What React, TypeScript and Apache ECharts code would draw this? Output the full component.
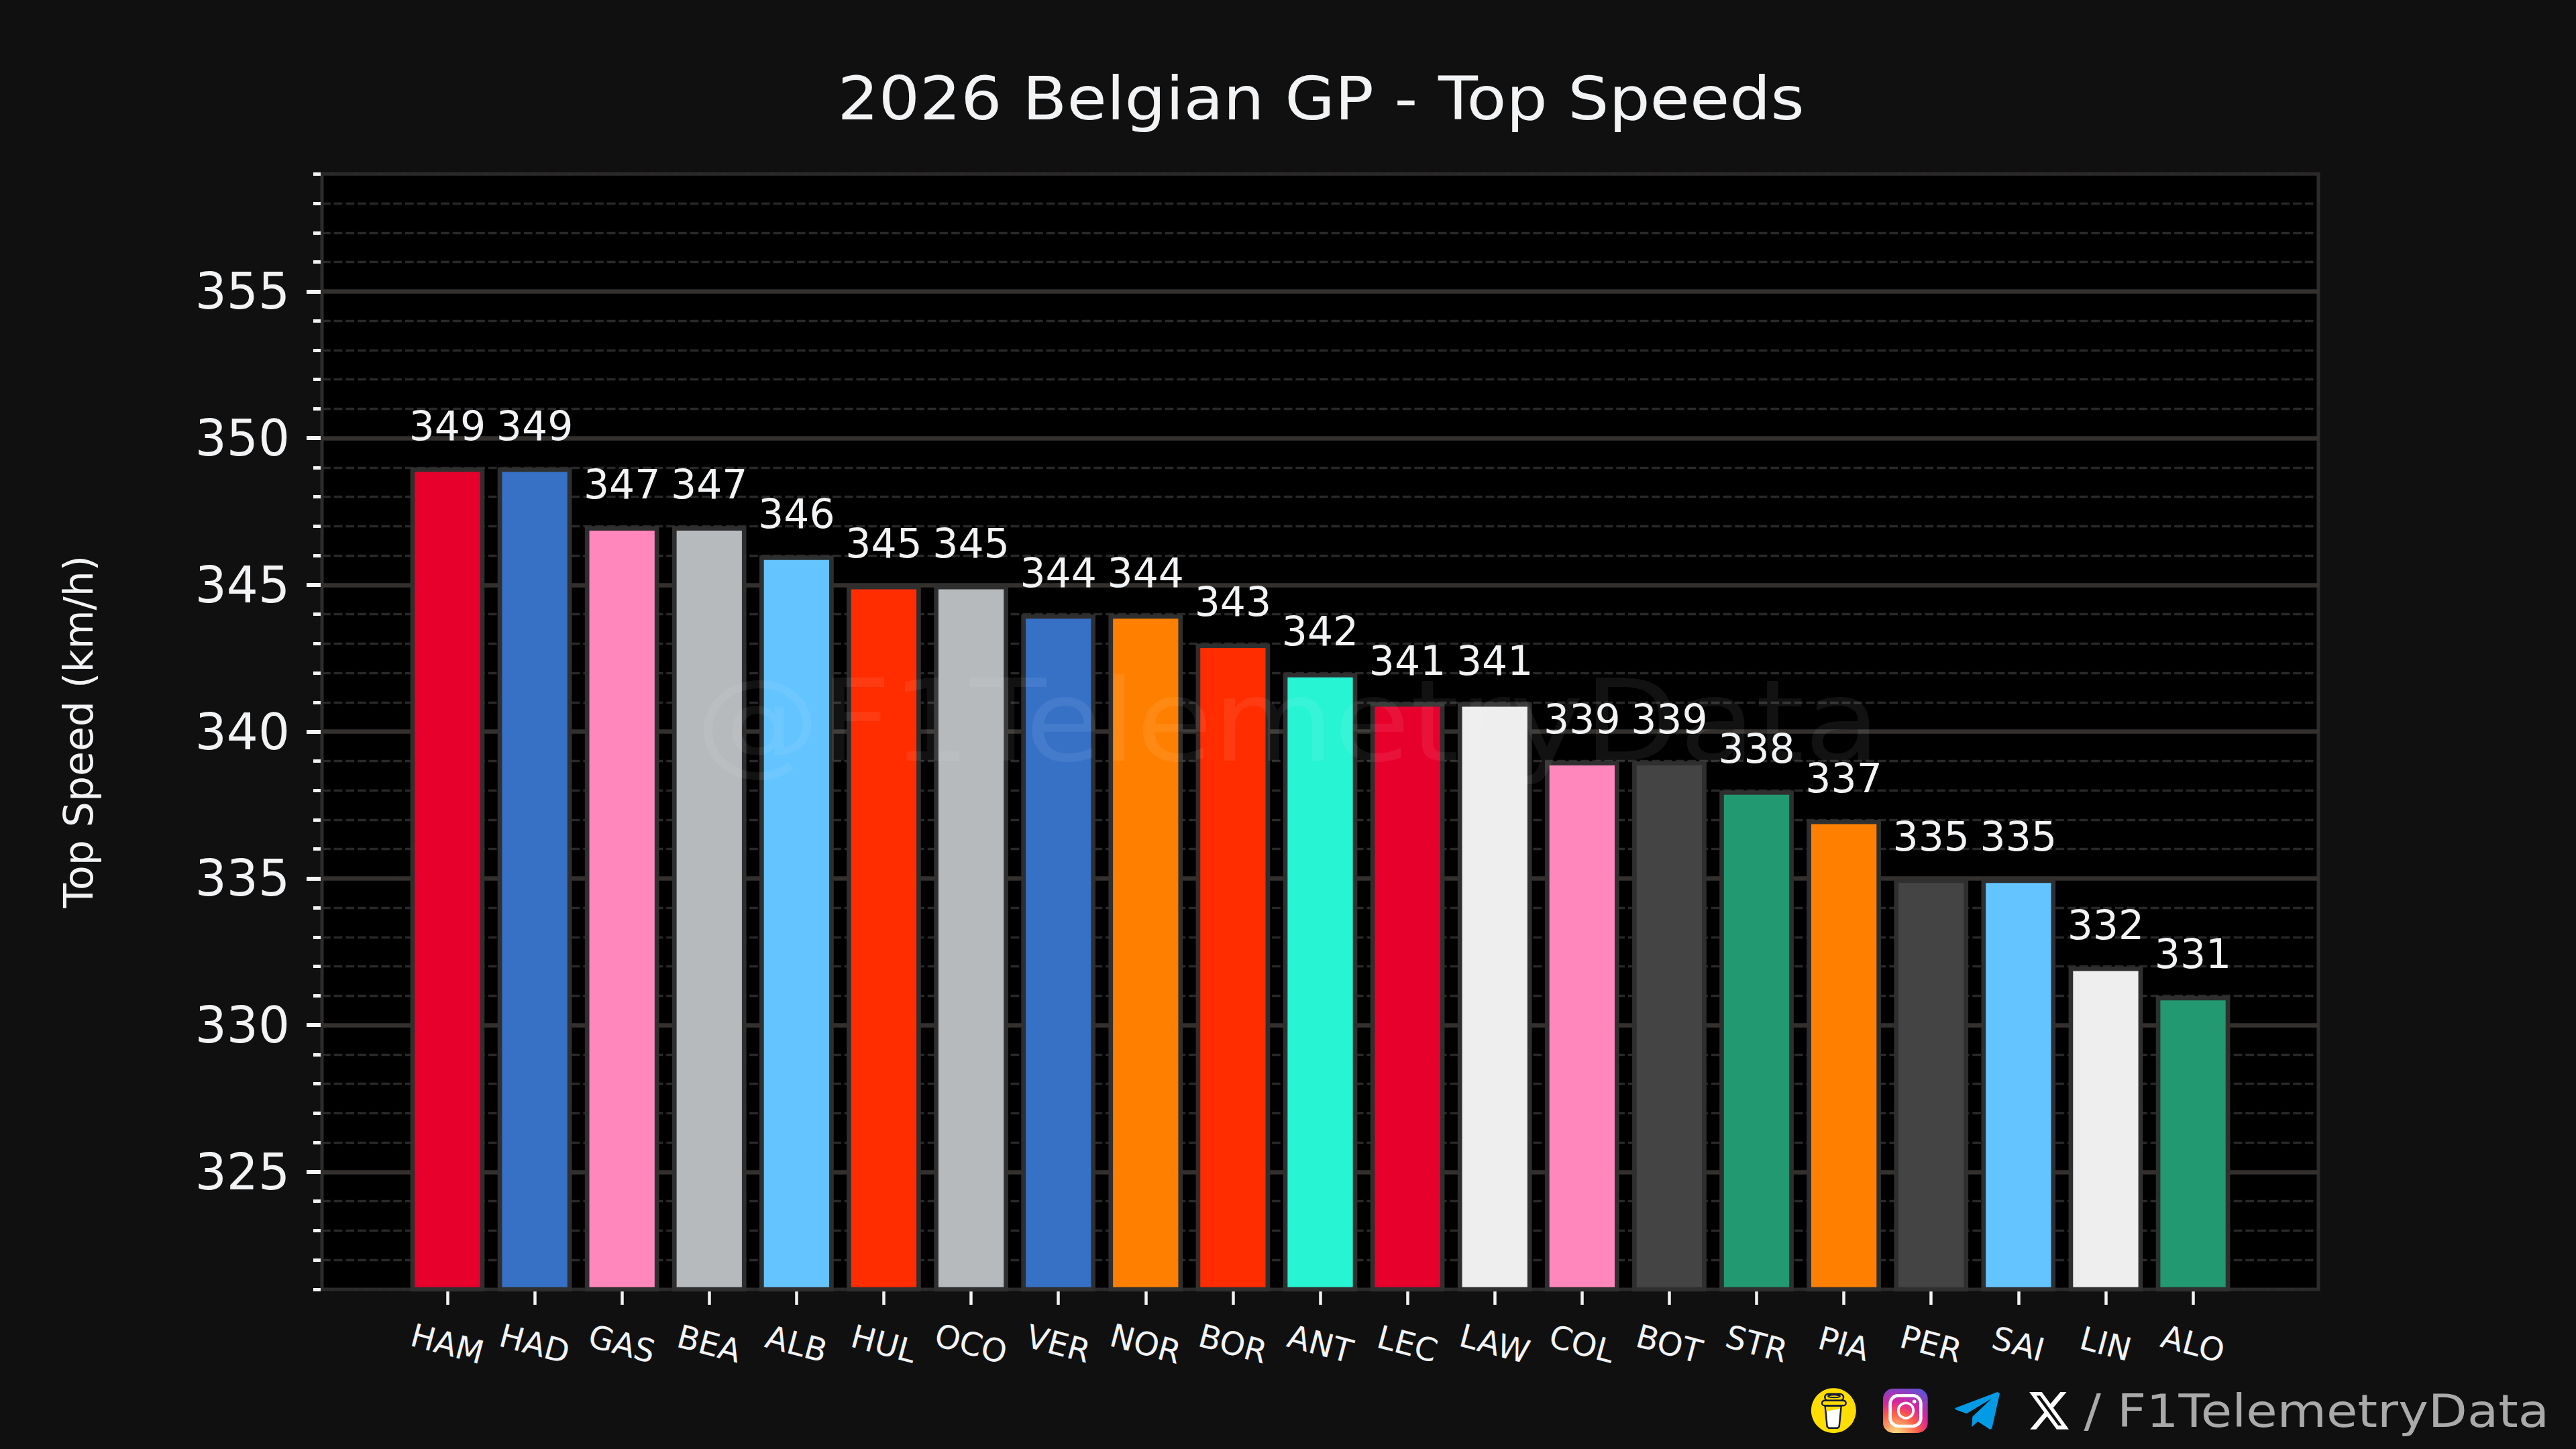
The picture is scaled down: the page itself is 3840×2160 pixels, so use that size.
import React, { useEffect, useRef } from "react";
import * as echarts from "echarts";

const drivers = ["HAM","HAD","GAS","BEA","ALB","HUL","OCO","VER","NOR","BOR","ANT","LEC","LAW","COL","BOT","STR","PIA","PER","SAI","LIN","ALO"];
const speeds = [349,349,347,347,346,345,345,344,344,343,342,341,341,339,339,338,337,335,335,332,331];
const barColors = ["#E8002D","#3671C6","#FF87BC","#B6BABD","#64C4FF","#FF2D00","#B6BABD","#3671C6","#FF8000","#FF2D00","#27F4D2","#E8002D","#EEEEEE","#FF87BC","#444444","#229971","#FF8000","#444444","#64C4FF","#EEEEEE","#229971"];
const majorTicks = [325,330,335,340,345,350,355];
const driverPositions = drivers.map((_, i) => i);

const FONT = "DejaVu Sans";
const TEXT = "#F2F3F5";

const X_PATH = "M18.244 2.25h3.308l-7.227 8.26 8.502 11.24H16.17l-5.214-6.817L4.99 21.75H1.68l7.73-8.835L1.254 2.25H8.08l4.713 6.231zm-1.161 17.52h1.833L7.084 4.126H5.117z";
echarts.graphic.registerShape("xlogo", echarts.graphic.extendPath(X_PATH, {}));

const zx = (v: number) => 2680 + v / 3;
const zy = (v: number) => 2050 + v / 3;
const pts = (a: number[][]) => a.map(([x, y]) => [zx(x), zy(y)]);
const zrect = (x0: number, y0: number, x1: number, y1: number, r: number) => ({
  x: zx(x0), y: zy(y0), width: (x1 - x0) / 3, height: (y1 - y0) / 3, r,
});

function footerIcons() {
  const dark = "#171a33";
  const yellow = "#FFDD00";
  return [
    { type: "circle", shape: { cx: zx(160), cy: zy(158), r: 33.5 }, style: { fill: yellow } },
    { type: "polygon", shape: { points: pts([[122,137],[194,137],[185,230],[178,236],[138,236],[131,230]]) }, style: { fill: "#ffffff", stroke: dark, lineWidth: 2.5 } },
    { type: "polygon", shape: { points: pts([[126,140],[190,140],[189,150],[160,155],[130,162]]) }, style: { fill: yellow } },
    { type: "rect", shape: zrect(121, 84, 204, 114, 8), style: { fill: yellow, stroke: dark, lineWidth: 2.5 } },
    { type: "ellipse", shape: { cx: zx(162), cy: zy(94), rx: 9, ry: 2 }, style: { fill: "none", stroke: dark, lineWidth: 2 } },
    { type: "rect", shape: zrect(108, 113, 215, 136, 6), style: { fill: yellow, stroke: dark, lineWidth: 2.5 } },

    { type: "rect", shape: zrect(381, 60, 581, 258, 15),
      style: { fill: new echarts.graphic.RadialGradient(0.28, 1.07, 1.25, [
        { offset: 0, color: "#fdf497" }, { offset: 0.08, color: "#fdd27a" }, { offset: 0.42, color: "#fd5949" },
        { offset: 0.62, color: "#d6249f" }, { offset: 1, color: "#4a5ae0" },
      ]) } },
    { type: "rect", shape: zrect(413, 91, 550, 228, 12), style: { fill: "none", stroke: "#ffffff", lineWidth: 4.6 } },
    { type: "circle", shape: { cx: zx(483), cy: zy(158), r: 11.2 }, style: { fill: "none", stroke: "#ffffff", lineWidth: 3.8 } },
    { type: "circle", shape: { cx: zx(521), cy: zy(118), r: 2.9 }, style: { fill: "#ffffff" } },

    { type: "polygon", shape: { points: pts([[893,75],[903,82],[868,238],[860,243],[805,207],[778,232],[781,185],[866,105],[755,172],[705,154],[703,147]]) },
      style: { fill: "#039BE5" } },

    { type: "xlogo", x: 3021.6, y: 2068.6, scaleX: 2.735, scaleY: 2.855, style: { fill: "#ffffff" } },
  ];
}

export default function App() {
  const ref = useRef<HTMLDivElement>(null);
  useEffect(() => {
    document.body.style.margin = "0";
    const chart = echarts.init(ref.current!, undefined, { renderer: "svg" });
    chart.setOption({
      animation: false,
      backgroundColor: "#101010",
      grid: {
        left: 480, right: 384, top: 259.3, bottom: 238,
        show: true, backgroundColor: "#000000", borderColor: "#2E2B2B", borderWidth: 5,
      },
      xAxis: {
        type: "value",
        min: -1.437,
        max: 21.437,
        offset: 3,
        axisLine: { show: false, onZero: false },
        splitLine: { show: false },
        axisTick: { show: true, customValues: driverPositions, length: 20, lineStyle: { color: TEXT, width: 4.5 } },
        axisLabel: {
          show: true,
          customValues: driverPositions,
          formatter: (v: number) => drivers[Math.round(v)],
          rotate: -15,
          align: "center",
          verticalAlign: "middle",
          margin: 78,
          color: TEXT,
          fontFamily: FONT,
          fontSize: 48,
        },
      },
      yAxis: [
        {
          type: "value",
          min: 321,
          max: 359,
          interval: 1,
          offset: 2,
          axisLine: { show: false, onZero: false },
          axisLabel: { show: false },
          axisTick: { show: true, length: 11, lineStyle: { color: TEXT, width: 5 } },
          splitLine: { show: true, lineStyle: { color: "#2A2828", width: 3.3, type: [12.7, 5] } },
        },
        {
          type: "value",
          position: "left",
          min: 321,
          max: 359,
          offset: 2,
          name: "Top Speed (km/h)",
          nameLocation: "middle",
          nameRotate: 90,
          nameGap: 331,
          nameTextStyle: { color: TEXT, fontFamily: FONT, fontSize: 60 },
          axisLine: { show: false, onZero: false },
          axisTick: { show: true, customValues: majorTicks, length: 21, lineStyle: { color: TEXT, width: 6 } },
          axisLabel: { show: true, customValues: majorTicks, margin: 46, color: TEXT, fontFamily: FONT, fontSize: 74 },
          splitLine: { show: true, lineStyle: { color: "#33302D", width: 6.5, type: "solid" } },
        },
      ],
      series: [
        {
          type: "bar",
          xAxisIndex: 0,
          yAxisIndex: 0,
          barWidth: 110.7,
          data: speeds.map((s, i) => [driverPositions[i], s]),
          itemStyle: {
            color: (p: any) => barColors[p.dataIndex],
            borderColor: "#2F2F2F",
            borderWidth: 6.7,
          },
          label: {
            show: true,
            position: "top",
            distance: 32,
            formatter: (p: any) => String(speeds[p.dataIndex]),
            color: TEXT,
            fontFamily: FONT,
            fontSize: 60,
          },
        },
      ],
      graphic: [
        {
          type: "text",
          silent: true,
          z: 100,
          x: 1920,
          y: 1075,
          scaleX: 1.09,
          style: {
            text: "@F1TelemetryData",
            fill: "rgba(255,255,255,0.07)",
            font: `170px "${FONT}"`,
            textAlign: "center",
            textVerticalAlign: "middle",
          },
        },
        {
          type: "text",
          x: 1969,
          y: 147,
          scaleX: 1.083,
          style: {
            text: "2026 Belgian GP - Top Speeds",
            fill: TEXT,
            font: `89px "${FONT}"`,
            textAlign: "center",
            textVerticalAlign: "middle",
          },
        },
        ...footerIcons(),
        {
          type: "text",
          x: 3800,
          y: 2103,
          scaleX: 1.11,
          style: {
            text: "/ F1TelemetryData",
            fill: "#AAAAAA",
            font: `68px "${FONT}"`,
            textAlign: "right",
            textVerticalAlign: "middle",
          },
        },
      ],
    });
    return () => chart.dispose();
  }, []);
  return <div ref={ref} style={{ position: "absolute", left: 0, top: 0, width: 3840, height: 2160 }} />;
}
